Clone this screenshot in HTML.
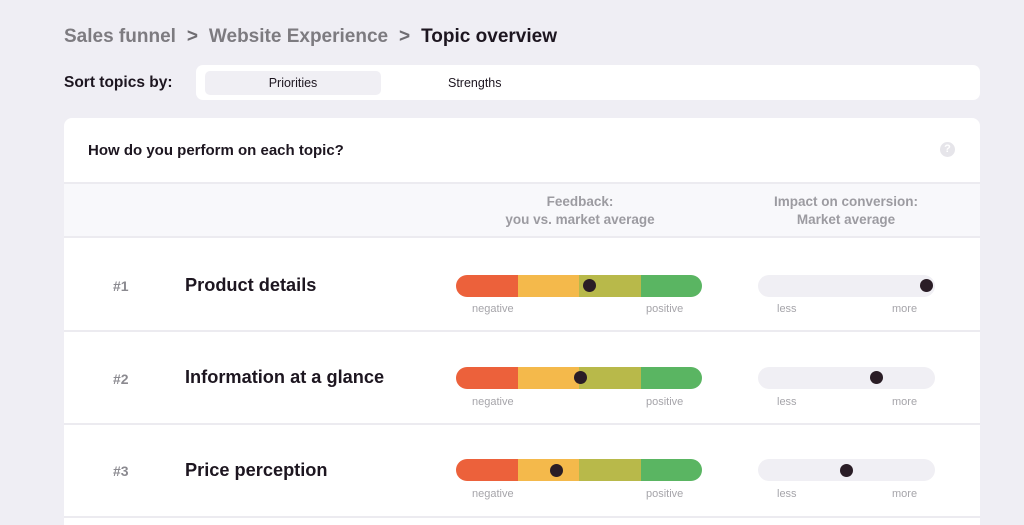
<!DOCTYPE html>
<html><head><meta charset="utf-8"><style>
*{margin:0;padding:0;box-sizing:border-box}
html,body{width:1024px;height:525px;overflow:hidden}
body{background:#efeef4;font-family:"Liberation Sans",Arial,sans-serif;position:relative}
.a{position:absolute;white-space:nowrap}
.bc{left:64px;top:26px;font-size:19px;font-weight:bold;color:#7d7b80}
.bc b{color:#1d1620}
.bc i{font-style:normal;display:inline-block;width:33px;text-align:center;color:#6f6d72}
.card{position:absolute;left:64px;top:118px;width:916px;height:420px;background:#fff;border-radius:8px}
.bar{position:absolute;height:22px;border-radius:11px;overflow:hidden;display:flex}
.bar span{flex:1}
.imp{position:absolute;height:22px;border-radius:11px;background:#f0eff4;width:177px;left:758px}
.dot{position:absolute;width:13px;height:13px;border-radius:50%;background:#2a1d26}
.lbl{position:absolute;font-size:11px;color:#a6a5aa}
.num{position:absolute;left:113px;font-size:14px;font-weight:bold;color:#8b8a90}
.tn{position:absolute;left:185px;font-size:18.2px;font-weight:bold;color:#1d1620}
.hr{position:absolute;left:64px;width:916px;height:2px;background:#ecebf0}
</style></head><body>
<div class="a bc">Sales funnel<i>&gt;</i>Website Experience<i>&gt;</i><b>Topic overview</b></div>
<div class="a" style="left:64px;top:74px;font-size:15.5px;font-weight:bold;color:#1d1620">Sort topics by:</div>
<div class="a" style="left:196px;top:65px;width:784px;height:35px;background:#fff;border-radius:7px"></div>
<div class="a" style="left:205px;top:71px;width:176px;height:24px;background:#f0eff4;border-radius:5px;font-size:12.5px;color:#1d1620;text-align:center;line-height:24px">Priorities</div>
<div class="a" style="left:448px;top:76px;font-size:12.5px;color:#1d1620">Strengths</div>
<div class="card"></div>
<div class="a" style="left:88px;top:142px;font-size:15px;font-weight:bold;color:#1d1620">How do you perform on each topic?</div>
<div class="a" style="left:940px;top:142px;width:15px;height:15px;border-radius:50%;background:#e6e5ea;color:#fff;font-size:11px;font-weight:bold;text-align:center;line-height:15px">?</div>
<div class="a" style="left:64px;top:182px;width:916px;height:56px;background:#f8f8fb;border-top:2px solid #ecebf0;border-bottom:2px solid #ecebf0"></div>
<div class="a" style="left:450px;top:193px;width:260px;text-align:center;font-size:13.5px;font-weight:bold;color:#9c9ba1;line-height:18px">Feedback:<br>you vs. market average</div>
<div class="a" style="left:746px;top:193px;width:200px;text-align:center;font-size:13.5px;font-weight:bold;color:#9c9ba1;line-height:18px">Impact on conversion:<br>Market average</div>
<div class="hr" style="top:330px"></div>
<div class="hr" style="top:423px"></div>
<div class="hr" style="top:516px"></div>

<div class="num" style="top:278px">#1</div><div class="tn" style="top:275px">Product details</div>
<div class="num" style="top:371px">#2</div><div class="tn" style="top:367px">Information at a glance</div>
<div class="num" style="top:463px">#3</div><div class="tn" style="top:460px">Price perception</div>

<div class="bar" style="left:456px;top:275px;width:246px"><span style="background:#ec613b"></span><span style="background:#f4b94b"></span><span style="background:#b8b94a"></span><span style="background:#5ab562"></span></div>
<div class="bar" style="left:456px;top:367px;width:246px"><span style="background:#ec613b"></span><span style="background:#f4b94b"></span><span style="background:#b8b94a"></span><span style="background:#5ab562"></span></div>
<div class="bar" style="left:456px;top:459px;width:246px"><span style="background:#ec613b"></span><span style="background:#f4b94b"></span><span style="background:#b8b94a"></span><span style="background:#5ab562"></span></div>
<div class="imp" style="top:275px"></div>
<div class="imp" style="top:367px"></div>
<div class="imp" style="top:459px"></div>
<div class="dot" style="left:583px;top:279px"></div>
<div class="dot" style="left:920px;top:279px"></div>
<div class="dot" style="left:574px;top:371px"></div>
<div class="dot" style="left:870px;top:371px"></div>
<div class="dot" style="left:550px;top:464px"></div>
<div class="dot" style="left:840px;top:464px"></div>

<div class="lbl" style="left:472px;top:303px">negative</div><div class="lbl" style="left:646px;top:303px">positive</div>
<div class="lbl" style="left:777px;top:303px">less</div><div class="lbl" style="left:892px;top:303px">more</div>
<div class="lbl" style="left:472px;top:396px">negative</div><div class="lbl" style="left:646px;top:396px">positive</div>
<div class="lbl" style="left:777px;top:396px">less</div><div class="lbl" style="left:892px;top:396px">more</div>
<div class="lbl" style="left:472px;top:488px">negative</div><div class="lbl" style="left:646px;top:488px">positive</div>
<div class="lbl" style="left:777px;top:488px">less</div><div class="lbl" style="left:892px;top:488px">more</div>
</body></html>
